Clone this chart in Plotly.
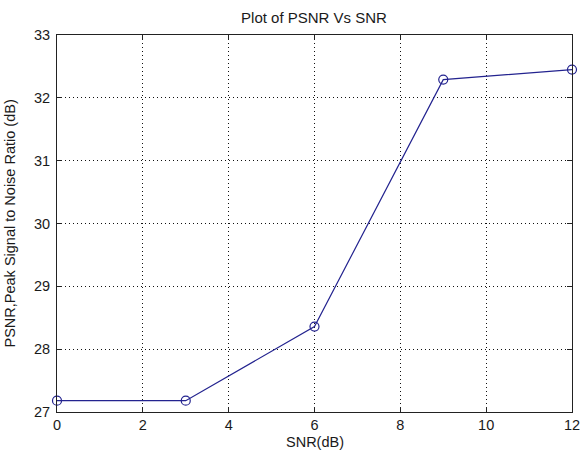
import plotly.graph_objects as go

snr_db = [0, 3, 6, 9, 12]
psnr_db = [27.18, 27.18, 28.36, 32.29, 32.45]
x_ticks = [0, 2, 4, 6, 8, 10, 12]
y_ticks = [27, 28, 29, 30, 31, 32, 33]

title_text = "Plot of PSNR Vs SNR"
x_title = "SNR(dB)"
y_title = "PSNR,Peak Signal to Noise Ratio (dB)"

FONT = "Liberation Sans, Arial, sans-serif"
TXT = "#1a1a1a"
FS = 14.5
LINE = "#23238f"

fig = go.Figure()
fig.add_trace(go.Scatter(
    x=snr_db, y=psnr_db, mode="lines+markers",
    line=dict(color=LINE, width=1.2),
    marker=dict(symbol="circle-open", size=9, color=LINE, line=dict(width=1.2)),
    showlegend=False, cliponaxis=False, hoverinfo="skip",
))

axis_common = dict(
    showline=True, linecolor="#222222", linewidth=1, mirror="ticks",
    ticks="inside", ticklen=5, tickcolor="#222222", tickwidth=1,
    showgrid=True, gridcolor="#111111", griddash="1px,3px", gridwidth=1,
    zeroline=False,
    tickfont=dict(family=FONT, size=FS, color=TXT),
)

fig.update_layout(
    width=587, height=453,
    margin=dict(l=57, r=7, t=35, b=41),
    paper_bgcolor="white", plot_bgcolor="white",
    title=dict(text=title_text, x=314 / 587, xanchor="center",
               y=1 - 17.5 / 453, yanchor="middle",
               font=dict(family=FONT, size=15, color=TXT)),
    xaxis=dict(range=[0, 12], tickvals=x_ticks, ticklabeloverflow="allow",
               **axis_common),
    yaxis=dict(range=[27, 33], tickvals=y_ticks, ticklabelstandoff=3,
               **axis_common),
    annotations=[
        dict(text=x_title, xref="paper", yref="paper", x=0.5, y=0,
             xanchor="center", yanchor="middle", yshift=-30, showarrow=False,
             font=dict(family=FONT, size=FS, color=TXT)),
        dict(text=y_title, xref="paper", yref="paper", x=0, y=0.5,
             xanchor="center", yanchor="middle", xshift=-48, textangle=-90,
             showarrow=False, font=dict(family=FONT, size=FS, color=TXT)),
    ],
)

fig.write_html(
    "out.html",
    config={"displayModeBar": False, "staticPlot": True},
    post_script="document.body.style.margin='0';document.body.style.overflow='hidden';",
)
